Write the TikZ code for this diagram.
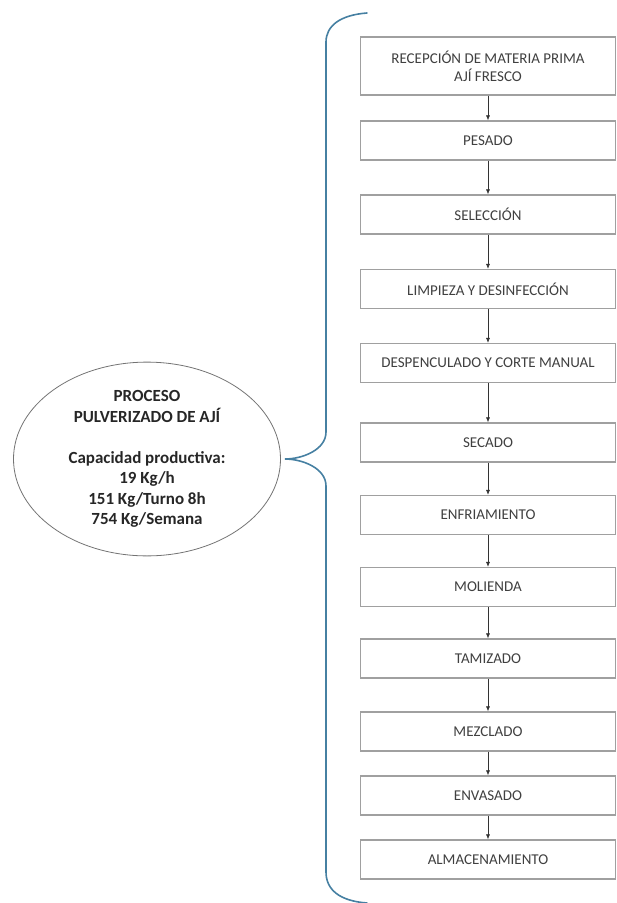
\documentclass[tikz,border=0pt]{standalone}
\usepackage{fontspec}
\setmainfont{Carlito}
\usetikzlibrary{shapes.geometric,arrows.meta}

\definecolor{bracecol}{RGB}{70,128,162}
\definecolor{boxline}{RGB}{160,160,160}
\definecolor{boxtext}{RGB}{64,64,64}

\tikzset{
	etapa/.style={draw=boxline, line width=1.2pt, fill=white, text=boxtext,
		minimum width=255pt, minimum height=39pt, align=center, inner sep=2pt,
		font=\fontsize{15}{18}\selectfont},
	flujo/.style={-{Latex[length=5pt,width=4pt]}, line width=0.6pt, black!80},
	proceso/.style={ellipse, draw=black!55, line width=0.8pt, text=black!85,
		minimum width=267pt, minimum height=178pt, align=center, inner sep=0pt,
		font=\bfseries\fontsize{17}{20.5}\selectfont},
}

\begin{document}
\begin{tikzpicture}[x=1pt,y=-1pt]% {{{ pulverizado
	\useasboundingbox (0,0) rectangle (617,903);

	\node[etapa, minimum height=58pt] (recepcion) at (488,66) {RECEPCIÓN DE MATERIA PRIMA\\AJÍ FRESCO};
	\foreach \y/\n/\t in {140.5/pesado/PESADO, 214.5/seleccion/SELECCIÓN,
		289/limpieza/LIMPIEZA Y DESINFECCIÓN, 363/despenculado/DESPENCULADO Y CORTE MANUAL,
		442.5/secado/SECADO, 515/enfriamiento/ENFRIAMIENTO, 587/molienda/MOLIENDA,
		658.5/tamizado/TAMIZADO, 731.5/mezclado/MEZCLADO, 795.5/envasado/ENVASADO,
		859.5/almacen/ALMACENAMIENTO}
		\node[etapa] (\n) at (488,\y) {\t};

	\foreach \a/\b in {recepcion/pesado, pesado/seleccion, seleccion/limpieza,
		limpieza/despenculado, despenculado/secado, secado/enfriamiento,
		enfriamiento/molienda, molienda/tamizado, tamizado/mezclado,
		mezclado/envasado, envasado/almacen}
		\draw[flujo] (\a) -- (\b);

	\node[proceso] (capacidad) at (147,459) {PROCESO\\PULVERIZADO DE AJÍ\\[20.5pt]Capacidad productiva:\\19 Kg/h\\151 Kg/Turno 8h\\754 Kg/Semana};

	% llave
	\coordinate (punta) at (285,459);
	\draw[bracecol, line width=1.6pt, line cap=round]
		(367,13) .. controls (340,15) and (326,26) .. (326,42) -- (326,432)
		.. controls (326,450) and (302,459) .. (punta)
		.. controls (302,459) and (326,468) .. (326,486) -- (326,872)
		.. controls (326,890) and (340,901) .. (367,903);
\end{tikzpicture}% }}}
\end{document}
